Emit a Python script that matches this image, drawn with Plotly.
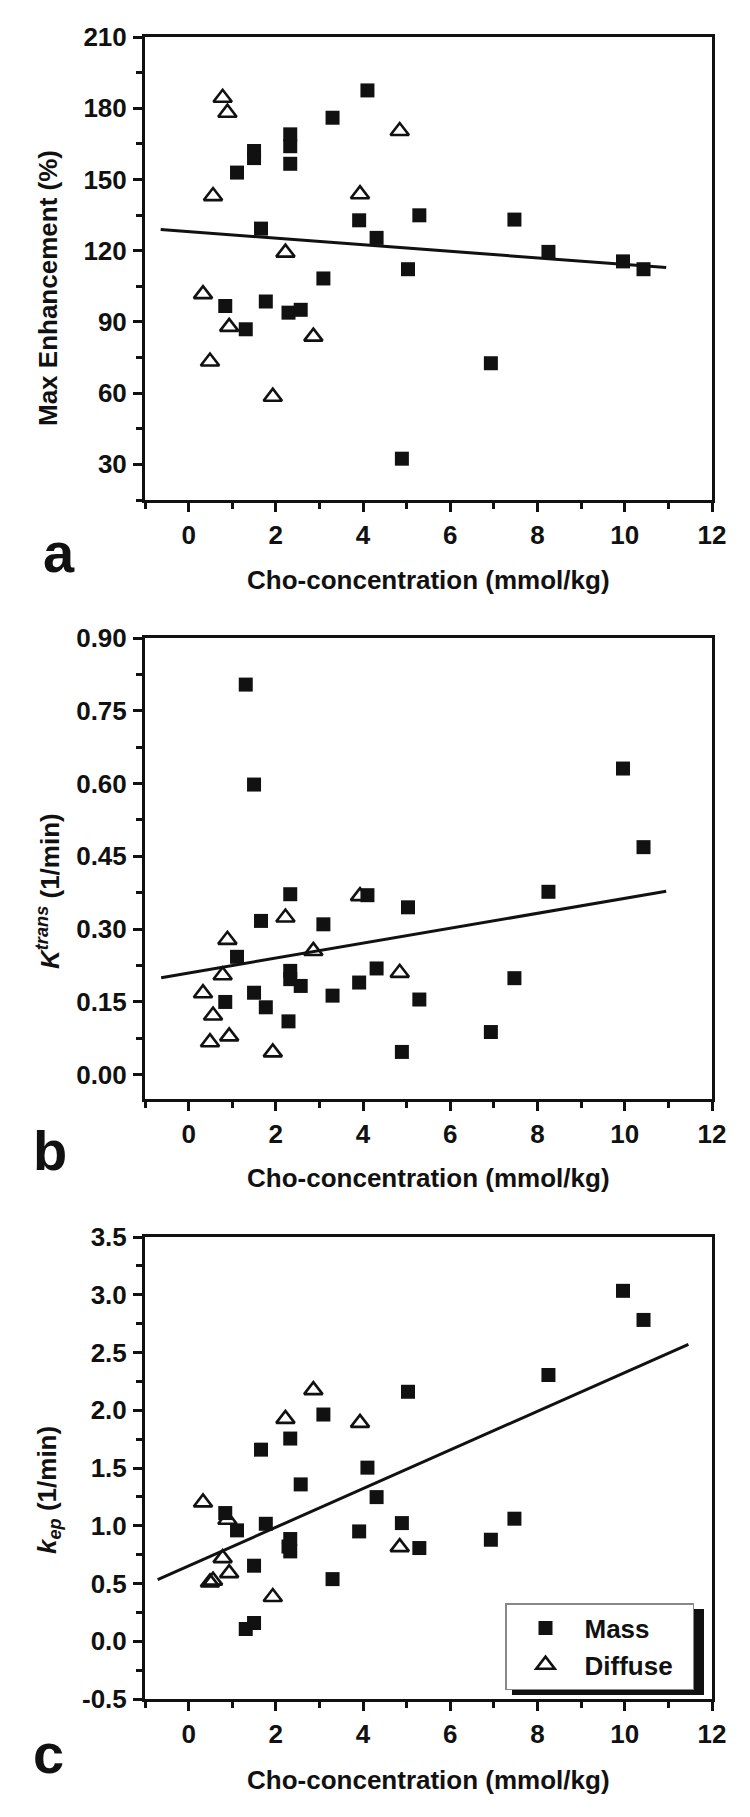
import plotly.graph_objects as go

W, H = 750, 1817

# ---------------- data ----------------
mass_cho = [0.84, 1.11, 1.31, 1.50, 1.50, 1.66, 1.77, 2.29, 2.33, 2.33, 2.33, 2.57, 3.09,
            3.30, 3.91, 4.10, 4.31, 4.89, 5.03, 5.29, 6.93, 7.47, 8.25, 9.96, 10.43]
mass_max_enh = [96.7, 152.9, 86.9, 162.0, 159.0, 129.3, 98.6, 93.9, 169.0, 164.0, 156.6, 95.1, 108.3,
                176.0, 132.8, 187.5, 125.4, 32.4, 112.2, 134.9, 72.6, 133.1, 119.5, 115.5, 112.2]
mass_ktrans = [0.150, 0.243, 0.804, 0.598, 0.169, 0.317, 0.139, 0.110, 0.372, 0.214, 0.197, 0.183, 0.310,
               0.163, 0.190, 0.370, 0.219, 0.047, 0.345, 0.155, 0.088, 0.199, 0.377, 0.631, 0.469]
mass_kep = [1.110, 0.960, 0.106, 0.654, 0.158, 1.659, 1.017, 0.820, 1.755, 0.885, 0.778, 1.358, 1.963,
            0.538, 0.951, 1.503, 1.248, 1.023, 2.160, 0.807, 0.879, 1.061, 2.305, 3.034, 2.782]

diff_cho = [0.33, 0.49, 0.56, 0.78, 0.89, 0.93, 1.93, 2.22, 2.86, 3.93, 4.84]
diff_max_enh = [101.7, 73.3, 143.0, 184.4, 178.1, 87.9, 58.5, 119.2, 83.8, 143.8, 170.4]
diff_ktrans = [0.168, 0.067, 0.122, 0.205, 0.278, 0.079, 0.046, 0.324, 0.255, 0.368, 0.210]
diff_kep = [1.202, 0.510, 0.525, 0.720, 1.052, 0.590, 0.383, 1.925, 2.174, 1.891, 0.815]

# regression line end points
fit_a_x = [-0.64, 10.95]
fit_a_y = [128.9, 112.9]
fit_b_x = [-0.63, 10.95]
fit_b_y = [0.200, 0.378]
fit_c_x = [-0.71, 11.46]
fit_c_y = [0.533, 2.571]

# tick labels
x_tickvals = [0, 2, 4, 6, 8, 10, 12]
x_ticktext = ["0", "2", "4", "6", "8", "10", "12"]
a_tickvals = [30, 60, 90, 120, 150, 180, 210]
a_ticktext = ["30", "60", "90", "120", "150", "180", "210"]
b_tickvals = [0.0, 0.15, 0.30, 0.45, 0.60, 0.75, 0.90]
b_ticktext = ["0.00", "0.15", "0.30", "0.45", "0.60", "0.75", "0.90"]
c_tickvals = [-0.5, 0.0, 0.5, 1.0, 1.5, 2.0, 2.5, 3.0, 3.5]
c_ticktext = ["-0.5", "0.0", "0.5", "1.0", "1.5", "2.0", "2.5", "3.0", "3.5"]

x_title = "Cho-concentration (mmol/kg)"
y_titles = ["Max Enhancement (%)",
            "<i>K</i><sup><i>trans</i></sup> (1/min)",
            "<i>k</i><sub><i>ep</i></sub> (1/min)"]
panel_letters = ["a", "b", "c"]
series_names = ["Mass", "Diffuse\u00a0\u00a0"]

# ---------------- layout geometry (pixels) ----------------
FONT = "Liberation Sans, Arial, Helvetica, sans-serif"
INK = "#111111"
x_left, x_right = 145, 712
panels_px = [(37, 500), (638, 1099), (1237, 1699)]
y_ranges = [[15, 210], [-0.05, 0.90], [-0.5, 3.5]]
y_minor = [15, 0.075, 0.25]
y_ticks = [(a_tickvals, a_ticktext), (b_tickvals, b_ticktext), (c_tickvals, c_ticktext)]
xtitle_y_px = [580, 1178, 1780]
ytitle_y_px = [288, 891, 1490]
letter_px = [(59, 552), (50, 1150), (49, 1753)]

def px_x(p):
    return p / W

def px_y(p):
    return 1 - p / H

fig = go.Figure()

ys_mass = [mass_max_enh, mass_ktrans, mass_kep]
ys_diff = [diff_max_enh, diff_ktrans, diff_kep]
fits = [(fit_a_x, fit_a_y), (fit_b_x, fit_b_y), (fit_c_x, fit_c_y)]

for i in range(3):
    xa = "x" if i == 0 else f"x{i+1}"
    ya = "y" if i == 0 else f"y{i+1}"
    last = (i == 2)
    fig.add_trace(go.Scatter(
        x=fits[i][0], y=fits[i][1], mode="lines",
        line=dict(color=INK, width=3), showlegend=False, hoverinfo="skip",
        xaxis=xa, yaxis=ya))
    fig.add_trace(go.Scatter(
        x=mass_cho, y=ys_mass[i], mode="markers", name=series_names[0],
        marker=dict(symbol="square", size=14, color=INK, line=dict(width=0)),
        showlegend=last, xaxis=xa, yaxis=ya))
    fig.add_trace(go.Scatter(
        x=diff_cho, y=ys_diff[i], mode="markers", name=series_names[1],
        marker=dict(symbol="triangle-up-open", size=16, color=INK, line=dict(width=2.6, color=INK)),
        showlegend=last, xaxis=xa, yaxis=ya))

tickfont = dict(family=FONT, size=26, color=INK, weight="bold")

layout = dict(
    width=W, height=H,
    margin=dict(l=0, r=0, t=0, b=0),
    paper_bgcolor="white", plot_bgcolor="white",
    showlegend=True,
    legend=dict(
        x=px_x(505), xanchor="left", y=px_y(1603), yanchor="top",
        bgcolor="white", bordercolor="#888888", borderwidth=1.5,
        font=dict(family=FONT, size=26, color=INK, weight="bold"),
        itemwidth=68, tracegroupgap=0,
    ),
    annotations=[], shapes=[],
)

for i in range(3):
    top, bot = panels_px[i]
    xkey = "xaxis" if i == 0 else f"xaxis{i+1}"
    ykey = "yaxis" if i == 0 else f"yaxis{i+1}"
    ya = "y" if i == 0 else f"y{i+1}"
    xa = "x" if i == 0 else f"x{i+1}"
    layout[xkey] = dict(
        domain=[px_x(x_left), px_x(x_right)], anchor=ya, range=[-1, 12],
        tickmode="array", tickvals=x_tickvals, ticktext=x_ticktext,
        ticks="outside", ticklen=9, tickwidth=2.5, tickcolor=INK,
        minor=dict(dtick=1, tick0=0, ticks="outside", ticklen=6, tickwidth=2.5, tickcolor=INK, showgrid=False),
        showline=True, linewidth=3, linecolor=INK, mirror=True,
        showgrid=False, zeroline=False, tickfont=tickfont, automargin=False,
        ticklabelstandoff=1,
    )
    tv, tt = y_ticks[i]
    layout[ykey] = dict(
        domain=[px_y(bot), px_y(top)], anchor=xa, range=y_ranges[i],
        tickmode="array", tickvals=tv, ticktext=tt,
        ticks="outside", ticklen=9, tickwidth=2.5, tickcolor=INK,
        minor=dict(dtick=y_minor[i], tick0=0, ticks="outside", ticklen=6, tickwidth=2.5, tickcolor=INK, showgrid=False),
        showline=True, linewidth=3, linecolor=INK, mirror=True,
        showgrid=False, zeroline=False, tickfont=tickfont, automargin=False,
        ticklabelstandoff=1,
    )
    layout["annotations"].append(dict(
        text=x_title, xref="paper", yref="paper",
        x=px_x((x_left + x_right) / 2), y=px_y(xtitle_y_px[i]),
        xanchor="center", yanchor="middle", showarrow=False,
        font=dict(family=FONT, size=26, color=INK, weight="bold")))
    layout["annotations"].append(dict(
        text=y_titles[i], xref="paper", yref="paper",
        x=px_x(48), y=px_y(ytitle_y_px[i]), textangle=-90,
        xanchor="center", yanchor="middle", showarrow=False,
        font=dict(family=FONT, size=26, color=INK, weight="bold")))
    lx, ly = letter_px[i]
    layout["annotations"].append(dict(
        text=panel_letters[i], xref="paper", yref="paper",
        x=px_x(lx), y=px_y(ly), xanchor="center", yanchor="middle", showarrow=False,
        font=dict(family=FONT, size=56, color=INK, weight="bold")))

# legend drop shadow
layout["shapes"].append(dict(
    type="rect", xref="paper", yref="paper", layer="above",
    x0=px_x(512), x1=px_x(704), y0=px_y(1695), y1=px_y(1609),
    fillcolor=INK, line=dict(width=0)))

fig.update_layout(**layout)
fig.write_html("out.html", config={"displayModeBar": False},
               post_script="document.body.style.margin='0px';")
